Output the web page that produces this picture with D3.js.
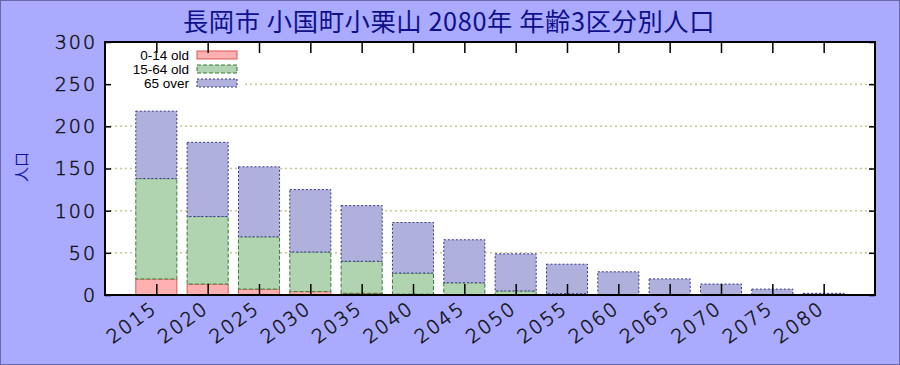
<!DOCTYPE html>
<html><head><meta charset="utf-8">
<script src="https://cdn.jsdelivr.net/npm/d3@7"></script>
<style>body{margin:0;background:#aaaaff;} svg{display:block;}</style>
</head><body>
<svg id="c" width="900" height="365"></svg>
<script>
const years = [2015,2020,2025,2030,2035,2040,2045,2050,2055,2060,2065,2070,2075,2080];
const young = [19,13,7,4,2,1,0.5,0.3,0.2,0.1,0,0,0,0];
const working = [119,80,62,47,38,25,14,4.5,1.3,0.4,0.1,0,0,0];
const elderly = [80,88,83,74,66,60,51,44,35,27,19,13,7,2];
const seriesNames = ["0-14 old","15-64 old","65 over"];
const yTicks = [0,50,100,150,200,250,300];
const title = "長岡市 小国町小栗山 2080年 年齢3区分別人口";
const yLabel = "人口";

const svg = d3.select("#c");
const W = 900, H = 365;
const L = 105, R = 875, T = 42, B = 295;

svg.append("rect").attr("x",0.5).attr("y",0.5).attr("width",W-1).attr("height",H-1)
  .attr("fill","#aaaaff").attr("stroke","#6a6aa8").attr("stroke-width",1);
svg.append("rect").attr("x",L).attr("y",T).attr("width",R-L).attr("height",B-T).attr("fill","#fff");

const x = d3.scaleLinear().domain([2010,2085]).range([L,R]);
const y = d3.scaleLinear().domain([0,300]).range([B,T]);

// grid
svg.append("g").selectAll("line").data(yTicks.filter(v=>v>0&&v<300)).join("line")
  .attr("x1",L).attr("x2",R).attr("y1",d=>y(d)).attr("y2",d=>y(d))
  .attr("stroke","#c8c890").attr("stroke-width",1.5).attr("stroke-dasharray","2,3");

const styles = [
  {fill:"#ffb0b0", stroke:"#dd5555", dash:null},
  {fill:"#b0d4b0", stroke:"#3a7a3a", dash:"4,2"},
  {fill:"#b0b0dd", stroke:"#333388", dash:"2,2"}
];
const table = years.map((yr,i)=>({year:yr, a:young[i], b:working[i], c:elderly[i]}));
const stack = d3.stack().keys(["a","b","c"])(table);
const bw = x(2014) - x(2010);
stack.forEach((layer,k)=>{
  svg.append("g").selectAll("rect").data(layer).join("rect")
    .attr("x",d=>x(d.data.year)-bw/2).attr("width",bw)
    .attr("y",d=>y(d[1])).attr("height",d=>Math.max(0,y(d[0])-y(d[1])))
    .attr("fill",styles[k].fill).attr("stroke",styles[k].stroke).attr("stroke-width",1)
    .attr("stroke-dasharray",styles[k].dash)
    .attr("display",d=>(d[1]-d[0])>0?null:"none");
});

// legend
const lg = svg.append("g");
lg.append("rect").attr("x",L+2).attr("y",T+2).attr("width",138).attr("height",48).attr("fill","#fff");
seriesNames.forEach((n,k)=>{
  const cy = 55 + k*14;
  lg.append("text").attr("x",189).attr("y",cy+4.5).attr("text-anchor","end")
    .attr("font-family","Liberation Sans, Arial, sans-serif").attr("font-size",13.5).attr("fill","#000").text(n);
  lg.append("rect").attr("x",197).attr("y",cy-4).attr("width",40).attr("height",8)
    .attr("fill",styles[k].fill).attr("stroke",styles[k].stroke).attr("stroke-width",1)
    .attr("stroke-dasharray",styles[k].dash);
});

// axes
const font = "DejaVu Sans, sans-serif";
const yAxis = svg.append("g").attr("transform",`translate(${L},0)`)
  .call(d3.axisRight(y).tickValues(yTicks).tickSize(6).tickFormat(""));
const yAxisR = svg.append("g").attr("transform",`translate(${R},0)`)
  .call(d3.axisLeft(y).tickValues(yTicks).tickSize(6).tickFormat(""));
const xAxisB = svg.append("g").attr("transform",`translate(0,${B})`)
  .call(d3.axisTop(x).tickValues(years).tickSize(11).tickFormat(""));
const xAxisT = svg.append("g").attr("transform",`translate(0,${T})`)
  .call(d3.axisBottom(x).tickValues(years).tickSize(11).tickFormat(""));
[yAxis,yAxisR,xAxisB,xAxisT].forEach(g=>{g.select(".domain").remove(); g.selectAll("line").attr("stroke","#000").attr("stroke-width",1.5);});

svg.append("g").selectAll("text").data(yTicks).join("text")
  .attr("x",97).attr("y",d=>y(d)).attr("dy","0.36em").attr("text-anchor","end")
  .attr("font-family",font).attr("font-weight",200).attr("font-size",19).attr("letter-spacing",2)
  .attr("fill","#111").attr("stroke","#111").attr("stroke-width",0.5).text(d=>d);

svg.append("g").selectAll("text").data(years).join("text")
  .attr("transform",d=>`translate(${x(d)+2},${B+16}) rotate(-36)`)
  .attr("text-anchor","end")
  .attr("font-family",font).attr("font-weight",200).attr("font-size",19).attr("letter-spacing",2)
  .attr("fill","#111").attr("stroke","#111").attr("stroke-width",0.5).text(d=>d);

// border
svg.append("rect").attr("x",L).attr("y",T).attr("width",R-L).attr("height",B-T)
  .attr("fill","none").attr("stroke","#000").attr("stroke-width",2);

svg.append("text").attr("x",449).attr("y",31).attr("text-anchor","middle")
  .attr("font-family","Noto Sans CJK JP, sans-serif").attr("font-size",25.3).attr("letter-spacing",0.6)
  .attr("fill","#10108a").text(title);

svg.append("text").attr("transform",`translate(27,167) rotate(-90)`).attr("text-anchor","middle")
  .attr("font-family","Noto Sans CJK JP, sans-serif").attr("font-size",15).attr("fill","#1010a0").text(yLabel);
</script>
</body></html>
